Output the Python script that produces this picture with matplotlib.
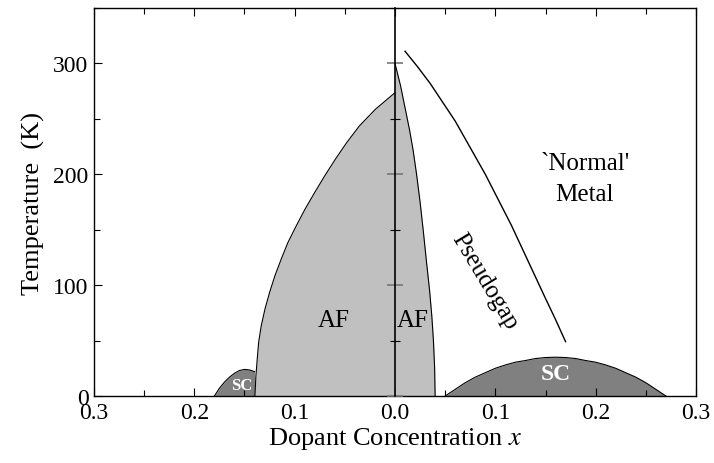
import matplotlib
matplotlib.use("Agg")
import matplotlib.pyplot as plt
from matplotlib.ticker import MultipleLocator, FixedFormatter, FixedLocator

plt.rcParams['font.family'] = ['Liberation Serif', 'DejaVu Serif']
plt.rcParams['mathtext.fontset'] = 'stix'

# electron doped side is plotted at negative x (labels show |x|)
af_left_x = [-0.1396, -0.1386, -0.1373, -0.1359, -0.1333, -0.1296, -0.1250, -0.1197, -0.1134, -0.1067,
             -0.0984, -0.0897, -0.0801, -0.0701, -0.0595, -0.0482, -0.0356, -0.0196, 0.0]
af_left_T = [0, 18.4, 33.4, 48.4, 63.4, 78.4, 93.4, 108.4, 123.5, 138.5,
             153.5, 168.5, 183.5, 198.5, 213.5, 228.5, 243.5, 258.6, 273.6]

af_right_x = [0.0, 0.0055, 0.010, 0.0145, 0.018, 0.0215, 0.025, 0.0283, 0.0315, 0.0345,
              0.0367, 0.0383, 0.0395, 0.040]
af_right_T = [300, 280, 260, 240, 222, 200, 175, 148, 120, 95, 72, 50, 25, 0]

sc_left_x = [-0.180, -0.175, -0.170, -0.165, -0.160, -0.155, -0.150, -0.145, -0.140]
sc_left_T = [0, 7, 12.5, 17, 20.5, 23, 24, 23.5, 22]

sc_right_x = [0.05, 0.055, 0.06, 0.065, 0.07, 0.08, 0.09, 0.10, 0.11, 0.12, 0.13, 0.14, 0.15, 0.16,
              0.17, 0.18, 0.19, 0.20, 0.21, 0.22, 0.23, 0.24, 0.25, 0.255, 0.26, 0.265, 0.27]
sc_right_T = [0, 3, 6, 9, 12, 17, 21, 25, 28, 30.5, 32, 33.8, 34.7, 35,
              34.7, 33.8, 32, 30.5, 28, 25, 21, 17, 12, 9, 6, 3, 0]

pseudogap_x = [0.010, 0.0225, 0.035, 0.0475, 0.060, 0.075, 0.090, 0.103, 0.116, 0.133, 0.150, 0.160, 0.170]
pseudogap_T = [311, 297, 282, 265, 248, 224, 200, 177, 154, 121, 88, 69, 49]

tick_pos = [-0.3, -0.2, -0.1, 0.0, 0.1, 0.2, 0.3]
tick_labels = ['0.3', '0.2', '0.1', '0.0', '0.1', '0.2', '0.3']

light = '#c0c0c0'
dark = '#808080'

fig = plt.figure(figsize=(7.14, 4.64), dpi=100)
ax = fig.add_axes([94 / 714, 1 - 397 / 464, (696 - 94) / 714, (397 - 9) / 464])

# superconducting domes below the AF regions
ax.fill_between(sc_left_x, sc_left_T, 0, color=dark, lw=0, zorder=1)
ax.plot(sc_left_x, sc_left_T, color='black', lw=0.8, zorder=1.5)
ax.fill_between(sc_right_x, sc_right_T, 0, color=dark, lw=0, zorder=1)
ax.plot(sc_right_x, sc_right_T, color='black', lw=0.8, zorder=1.5)

# antiferromagnetic regions
ax.fill_betweenx(af_left_T, af_left_x, 0, color=light, lw=0, zorder=2)
ax.plot(af_left_x, af_left_T, color='black', lw=0.8, zorder=2.5)
ax.fill_betweenx(af_right_T, 0, af_right_x, color=light, lw=0, zorder=2)
ax.plot(af_right_x, af_right_T, color='black', lw=0.8, zorder=2.5)

# pseudogap line
ax.plot(pseudogap_x, pseudogap_T, color='black', lw=1.0, zorder=3)

ax.set_xlim(-0.3, 0.3)
ax.set_ylim(0, 350)
ax.xaxis.set_major_locator(FixedLocator(tick_pos))
ax.xaxis.set_major_formatter(FixedFormatter(tick_labels))
ax.xaxis.set_minor_locator(MultipleLocator(0.05))
ax.yaxis.set_major_locator(MultipleLocator(100))
ax.yaxis.set_minor_locator(MultipleLocator(50))
ax.tick_params(which='both', direction='in', top=True, right=True, labelsize=17, pad=4)
ax.tick_params(which='major', length=6, width=0.8)
ax.tick_params(which='minor', length=4, width=0.8)
for sp in ax.spines.values():
    sp.set_linewidth(1.0)

# vertical axis at x = 0 with its own ticks
ax2 = ax.twinx()
ax2.set_ylim(0, 350)
for name in ['left', 'top', 'bottom']:
    ax2.spines[name].set_visible(False)
ax2.spines['right'].set_position(('data', 0))
ax2.spines['right'].set_linewidth(1.2)
ax2.yaxis.set_major_locator(MultipleLocator(100))
ax2.yaxis.set_minor_locator(MultipleLocator(50))
ax2.tick_params(which='major', direction='inout', length=12, width=1.2, color='#777777', labelright=False)
ax2.tick_params(which='minor', direction='inout', length=7, width=0.8, color='black')

ax.set_xlabel('Dopant Concentration $x$', fontsize=19, labelpad=2)
ax.set_ylabel('Temperature  (K)', fontsize=19, labelpad=6)

ax.text(-0.061, 69, 'AF', fontsize=18, ha='center', va='center')
ax.text(0.018, 69, 'AF', fontsize=18, ha='center', va='center')
ax.text(0.089, 104, 'Pseudogap', fontsize=18, ha='center', va='center', rotation=-59)
ax.text(0.189, 196, "`Normal'\nMetal", fontsize=18, ha='center', va='center', linespacing=1.5)
ax.text(0.16, 20, 'SC', fontsize=17, fontweight='bold', color='white', ha='center', va='center', zorder=4)
ax.text(-0.153, 10, 'SC', fontsize=12, fontweight='bold', color='white', ha='center', va='center', zorder=4)

fig.savefig('out.png', dpi=100)
